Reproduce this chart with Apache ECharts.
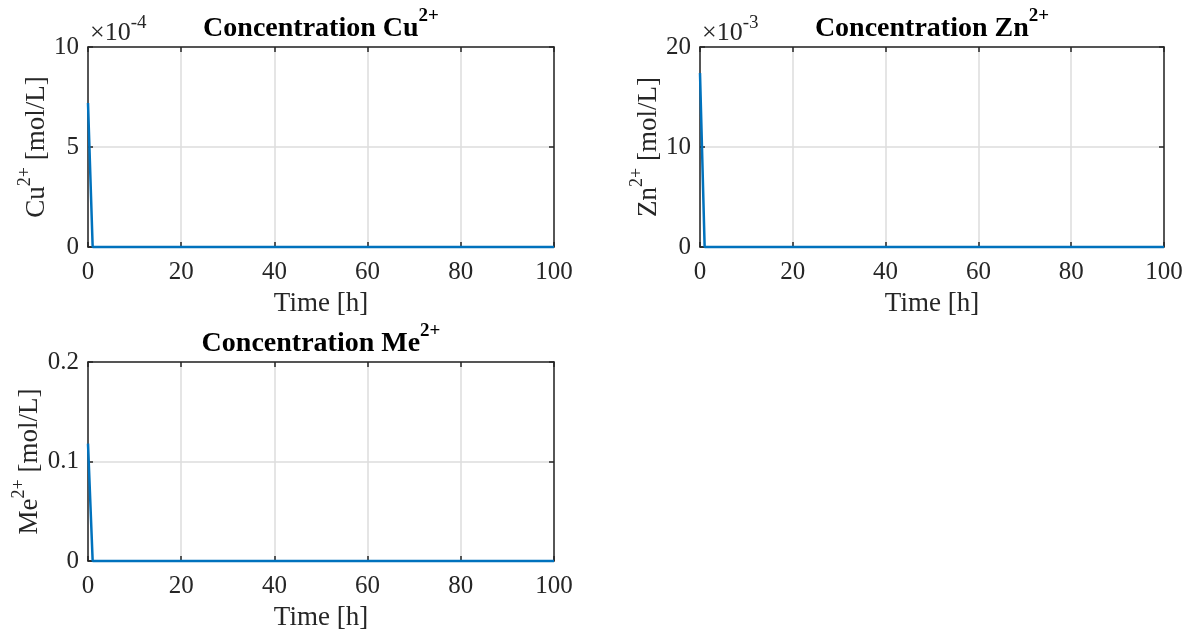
<!DOCTYPE html>
<html>
<head>
<meta charset="utf-8">
<script src="https://cdn.jsdelivr.net/npm/echarts@6/dist/echarts.min.js"></script>
<style>
html, body { margin: 0; padding: 0; background: #fff; }
#main { width: 1197px; height: 633px; }
</style>
</head>
<body>
<div id="main"></div>
<script>
// data (time in h, concentrations in mol/L)
var timeH = [0, 1, 100];
var cuConc = [7.2e-4, 0, 0];
var znConc = [17.4e-3, 0, 0];
var meConc = [0.118, 0, 0];

var FONT = 'Liberation Serif';
var INK = '#262626';
var LINE_BLUE = '#0072BD';
var TICK_FS = 25, LABEL_FS = 27, TITLE_FS = 28;

// one entry per subplot
var panels = [
    { ion: 'Cu', values: cuConc, yMax: 10e-4, yStep: 5e-4, scale: 1e4, exp: '-4',
      left: 88, top: 47, width: 466, height: 200 },
    { ion: 'Zn', values: znConc, yMax: 20e-3, yStep: 10e-3, scale: 1e3, exp: '-3',
      left: 700, top: 47, width: 464, height: 200 },
    { ion: 'Me', values: meConc, yMax: 0.2, yStep: 0.1, scale: 1, exp: null,
      left: 88, top: 362, width: 466, height: 199 }
];

function pairs(xs, ys) {
    var out = [];
    for (var i = 0; i < xs.length; i++) out.push([xs[i], ys[i]]);
    return out;
}

var grids = [], xAxes = [], yAxes = [], series = [], graphics = [];

panels.forEach(function (p, i) {
    grids.push({ left: p.left, top: p.top, width: p.width, height: p.height });

    var lineStyle = { color: INK, width: 1.5 };
    var tickStyle = { show: true, inside: true, length: 5, lineStyle: { color: INK, width: 1.5 } };
    var gridLine = { show: true, lineStyle: { color: '#dcdcdc', width: 1.5 } };

    // bottom x axis with labels and grid
    xAxes.push({
        gridIndex: i, type: 'value', position: 'bottom',
        min: 0, max: 100, interval: 20,
        axisLine: { show: true, onZero: false, lineStyle: lineStyle },
        axisTick: tickStyle,
        axisLabel: { fontFamily: FONT, fontSize: TICK_FS, color: INK, margin: 13 },
        splitLine: gridLine,
        name: 'Time [h]', nameLocation: 'middle', nameGap: 43,
        nameTextStyle: { fontFamily: FONT, fontSize: LABEL_FS, color: INK }
    });
    // top x axis: box edge + ticks only
    xAxes.push({
        gridIndex: i, type: 'value', position: 'top',
        min: 0, max: 100, interval: 20,
        axisLine: { show: true, onZero: false, lineStyle: lineStyle },
        axisTick: tickStyle,
        axisLabel: { show: false },
        splitLine: { show: false }
    });

    var sc = p.scale;
    yAxes.push({
        gridIndex: i, type: 'value', position: 'left',
        min: 0, max: p.yMax, interval: p.yStep,
        axisLine: { show: true, onZero: false, lineStyle: lineStyle },
        axisTick: tickStyle,
        axisLabel: {
            fontFamily: FONT, fontSize: TICK_FS, color: INK, margin: 9,
            formatter: function (v) { return String(Math.round(v * sc * 10) / 10); }
        },
        splitLine: gridLine,
        name: '{a|' + p.ion + '}{s|2+}{a| [mol/L]}',
        nameLocation: 'middle', nameGap: 38,
        nameTextStyle: {
            rich: {
                a: { fontFamily: FONT, fontSize: LABEL_FS, color: INK, lineHeight: 34, verticalAlign: 'bottom' },
                s: { fontFamily: FONT, fontSize: 18, color: INK, lineHeight: 34, verticalAlign: 'top' }
            }
        }
    });
    yAxes.push({
        gridIndex: i, type: 'value', position: 'right',
        min: 0, max: p.yMax, interval: p.yStep,
        axisLine: { show: true, onZero: false, lineStyle: lineStyle },
        axisTick: tickStyle,
        axisLabel: { show: false },
        splitLine: { show: false }
    });

    series.push({
        type: 'line',
        xAxisIndex: 2 * i, yAxisIndex: 2 * i,
        data: pairs(timeH, p.values),
        symbol: 'none', clip: false, z: 5,
        lineStyle: { color: LINE_BLUE, width: 2.5 }
    });

    // subplot title
    graphics.push({
        type: 'text',
        x: p.left + p.width / 2, y: p.top - 22,
        style: {
            text: '{b|Concentration ' + p.ion + '}{s|2+}',
            align: 'center', verticalAlign: 'middle',
            rich: {
                b: { fontFamily: FONT, fontWeight: 'bold', fontSize: TITLE_FS, fill: '#000', lineHeight: 36, verticalAlign: 'bottom' },
                s: { fontFamily: FONT, fontWeight: 'bold', fontSize: 19, fill: '#000', lineHeight: 36, verticalAlign: 'top' }
            }
        }
    });

    // exponent label in the corner
    if (p.exp) {
        graphics.push({
            type: 'text',
            x: p.left + 2, y: p.top - 17,
            style: {
                text: '{a|\u00d710}{s|' + p.exp + '}',
                align: 'left', verticalAlign: 'middle',
                rich: {
                    a: { fontFamily: FONT, fontSize: 26, fill: INK, lineHeight: 32, verticalAlign: 'bottom' },
                    s: { fontFamily: FONT, fontSize: 19, fill: INK, lineHeight: 32, verticalAlign: 'top' }
                }
            }
        });
    }
});

var myChart = echarts.init(document.getElementById('main'));
myChart.setOption({
    animation: false,
    backgroundColor: '#fff',
    grid: grids,
    xAxis: xAxes,
    yAxis: yAxes,
    series: series,
    graphic: graphics
});
</script>
</body>
</html>
